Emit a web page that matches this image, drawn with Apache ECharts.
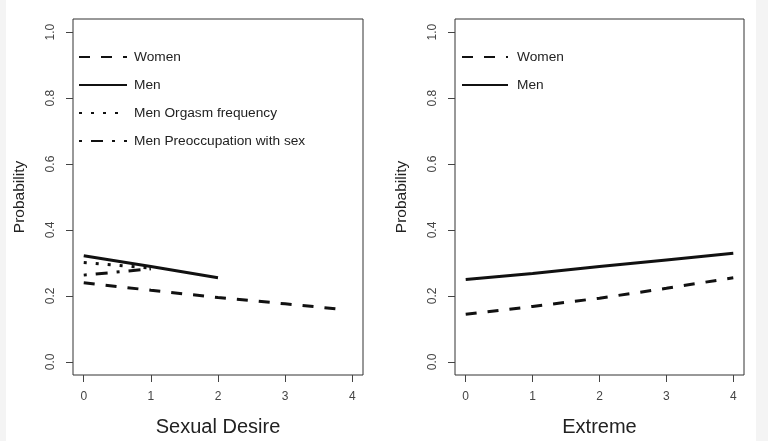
<!DOCTYPE html>
<html>
<head>
<meta charset="utf-8">
<script src="https://cdn.jsdelivr.net/npm/echarts@6/dist/echarts.min.js"></script>
<style>
  html, body { margin: 0; padding: 0; }
  body {
    width: 768px; height: 441px; overflow: hidden;
    background: linear-gradient(to right, #f4f4f4 6px, #ffffff 6px, #ffffff 756px, #f4f4f4 756px);
  }
  #main { width: 768px; height: 441px; }
</style>
</head>
<body>
<div id="main"></div>
<script>
// tick labels
var xTicks = [0, 1, 2, 3, 4];
var yTicks = [0, 0.2, 0.4, 0.6, 0.8, 1.0];

// left panel: Sexual Desire
var desireX = [0, 1, 2, 3, 3.8];
var womenDesire = [0.240, 0.217, 0.195, 0.176, 0.160];
var menDesireX = [0, 1, 2];
var menDesire = [0.322, 0.289, 0.255];
var orgasmX = [0, 1];
var menOrgasm = [0.301, 0.284];
var preoccX = [0, 1];
var menPreocc = [0.263, 0.282];

// right panel: Extreme
var extremeX = [0, 1, 2, 3, 4];
var womenExtreme = [0.144, 0.168, 0.193, 0.223, 0.255];
var menExtreme = [0.250, 0.268, 0.289, 0.309, 0.329];

function pairs(xs, ys) {
  return xs.map(function (x, i) { return [x, ys[i]]; });
}

var font = 'Liberation Sans, Arial, Helvetica, sans-serif';
var dashed = [11, 11];
var dotted = [3, 9];
var dotdash = [3, 9, 12, 9];

function xAxis(idx, name) {
  return {
    type: 'value', gridIndex: idx, min: -0.16, max: 4.16,
    name: name, nameLocation: 'middle', nameGap: 42,
    nameTextStyle: { fontFamily: font, fontSize: 20, color: '#222' },
    axisLine: { show: false, onZero: false },
    splitLine: { show: false },
    axisTick: { show: true, length: 7, customValues: xTicks, lineStyle: { color: '#444' } },
    axisLabel: { customValues: xTicks, margin: 16, fontFamily: font, fontSize: 12, color: '#444' }
  };
}
function yAxis(idx) {
  return {
    type: 'value', gridIndex: idx, min: -0.04, max: 1.04,
    name: 'Probability', nameLocation: 'middle', nameGap: 45,
    nameTextStyle: { fontFamily: font, fontSize: 15.5, color: '#222' },
    axisLine: { show: false, onZero: false },
    splitLine: { show: false },
    axisTick: { show: true, length: 7, customValues: yTicks, lineStyle: { color: '#444' } },
    axisLabel: {
      customValues: yTicks, rotate: 90, margin: 16, fontFamily: font, fontSize: 12, color: '#444',
      formatter: function (v) { return v.toFixed(1); }
    }
  };
}
function line(name, idx, data, type) {
  return {
    name: name, type: 'line', xAxisIndex: idx, yAxisIndex: idx,
    data: data, symbol: 'none', smooth: false, silent: true,
    itemStyle: { color: '#111' },
    lineStyle: { color: '#111', width: 3, type: type }
  };
}

var myChart = echarts.init(document.getElementById('main'));
var option = {
  animation: false,
  grid: [
    { left: 73, top: 19, width: 290, height: 356, outerBoundsMode: 'none', containLabel: false, show: true, borderColor: '#333', borderWidth: 1, backgroundColor: 'transparent' },
    { left: 455, top: 19, width: 289, height: 356, outerBoundsMode: 'none', containLabel: false, show: true, borderColor: '#333', borderWidth: 1, backgroundColor: 'transparent' }
  ],
  legend: [
    {
      data: ['Women', 'Men', 'Men Orgasm frequency', 'Men Preoccupation with sex'],
      orient: 'vertical', left: 78, top: 50, padding: 0, itemWidth: 48, itemHeight: 14, itemGap: 14,
      lineStyle: { width: 2 }, itemStyle: { opacity: 0 }, selectedMode: false,
      textStyle: { fontFamily: font, fontSize: 13.7, color: '#222', padding: [0, 0, 0, 2] }
    },
    {
      data: ['Women', 'Men'],
      orient: 'vertical', left: 461, top: 50, padding: 0, itemWidth: 46, itemHeight: 14, itemGap: 14,
      lineStyle: { width: 2 }, itemStyle: { opacity: 0 }, selectedMode: false,
      textStyle: { fontFamily: font, fontSize: 13.7, color: '#222', padding: [0, 0, 0, 4] }
    }
  ],
  xAxis: [xAxis(0, 'Sexual Desire'), xAxis(1, 'Extreme')],
  yAxis: [yAxis(0), yAxis(1)],
  series: [
    line('Women', 0, pairs(desireX, womenDesire), dashed),
    line('Men', 0, pairs(menDesireX, menDesire), 'solid'),
    line('Men Orgasm frequency', 0, pairs(orgasmX, menOrgasm), dotted),
    line('Men Preoccupation with sex', 0, pairs(preoccX, menPreocc), dotdash),
    line('Women', 1, pairs(extremeX, womenExtreme), dashed),
    line('Men', 1, pairs(extremeX, menExtreme), 'solid')
  ]
};
myChart.setOption(option);
</script>
</body>
</html>
